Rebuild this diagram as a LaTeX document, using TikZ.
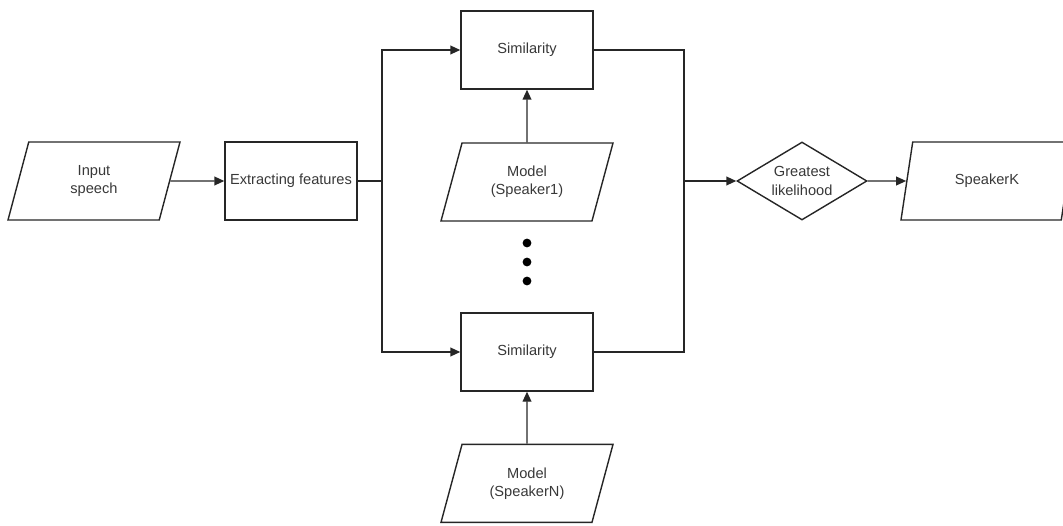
\documentclass[tikz,border=0pt]{standalone}
\usepackage{fontspec}
\setmainfont{Liberation Sans}
\usetikzlibrary{shapes.geometric,arrows.meta}

\begin{document}
\begin{tikzpicture}[
  font=\fontsize{10.4}{13}\selectfont, line width=1pt, draw=black!85,
  proc/.style={draw=black!85, rectangle, text=black!78, minimum width=3.3cm, minimum height=1.95cm, align=center},
  io/.style={draw=black!85, trapezium, trapezium left angle=63, trapezium right angle=117, trapezium stretches body, text=black!78, minimum width=4.3cm, minimum height=1.95cm, align=center},
  decide/.style={draw=black!85, diamond, aspect=1.67, text=black!78, minimum width=3.25cm, minimum height=1.95cm, inner sep=0pt, align=center},
  dot/.style={circle, fill=black, inner sep=0pt, minimum size=0.22cm},
  arr/.style={-{Triangle[length=2.5mm,width=2.2mm]}}
]
\useasboundingbox (0,0) rectangle (26.575,13.125);

\node[io] (in) at (2.35,8.6) {Input\\speech};
\node[proc] (feat) at (7.275,8.6) {Extracting features};
\node[proc] (sim1) at (13.175,11.875) {Similarity};
\node[io] (m1) at (13.175,8.575) {Model\\(Speaker1)};
\node[dot] (d1) at (13.175,7.05) {};
\node[dot] (d2) at (13.175,6.575) {};
\node[dot] (d3) at (13.175,6.1) {};
\node[proc] (sim2) at (13.175,4.325) {Similarity};
\node[io] (mN) at (13.175,1.04) {Model\\(SpeakerN)};
\node[decide] (dec) at (20.05,8.6) {Greatest\\likelihood};
\node[io] (out) at (24.675,8.6) {SpeakerK};
\coordinate (jl) at (9.55,8.6);
\coordinate (jr) at (17.1,8.6);

\draw[arr] (in) -- (feat);
\draw (feat) -- (jl);
\draw[arr] (jl) |- (sim1);
\draw[arr] (jl) |- (sim2);
\draw (sim1) -| (jr);
\draw (sim2) -| (jr);
\draw[arr] (jr) -- (dec);
\draw[arr] (dec) -- (out);
\draw[arr] (m1) -- (sim1);
\draw[arr] (mN) -- (sim2);
\end{tikzpicture}
\end{document}
